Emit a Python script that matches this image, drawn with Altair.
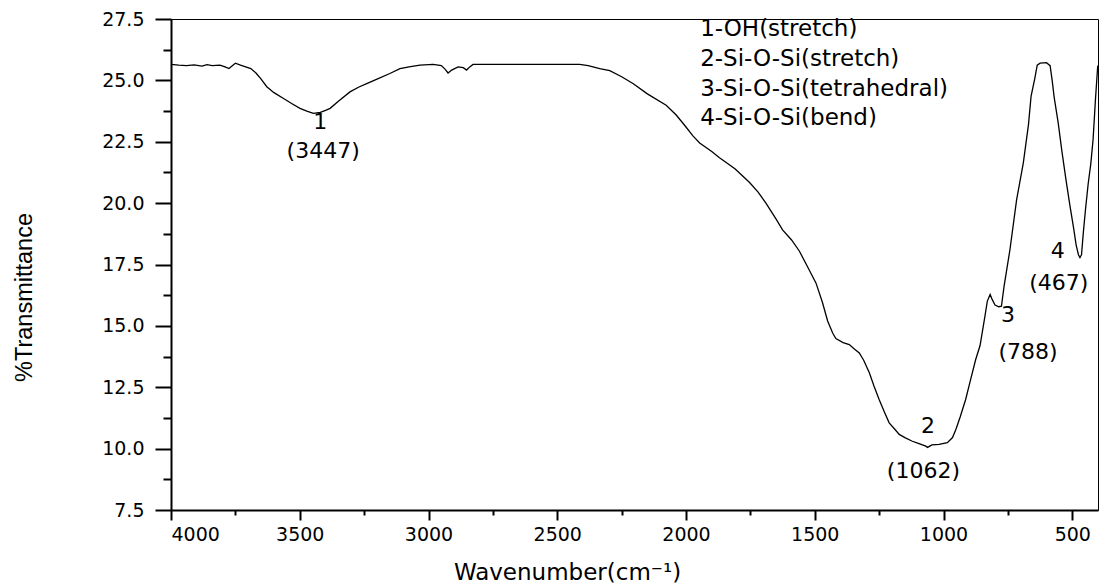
import altair as alt
import pandas as pd

# FTIR spectrum: wavenumber (cm-1) and %T
wavenumber = [4000, 3970, 3940, 3910, 3880, 3860, 3840, 3810, 3790, 3775, 3750, 3730, 3710,
              3690, 3670, 3650, 3628, 3600, 3563, 3530, 3499, 3470, 3447, 3420, 3400, 3382,
              3350, 3305, 3270, 3240, 3200, 3150, 3111, 3070, 3033, 2982, 2950, 2935, 2924,
              2910, 2885, 2865, 2852, 2840, 2827, 2700, 2500, 2413, 2380, 2335, 2296, 2250,
              2206, 2150, 2077, 2038, 2000, 1974, 1947, 1900, 1870, 1810, 1754, 1720, 1689,
              1650, 1625, 1590, 1560, 1530, 1495, 1470, 1450, 1430, 1418, 1390, 1366, 1345,
              1327, 1310, 1288, 1270, 1250, 1230, 1211, 1190, 1172, 1150, 1121, 1095, 1069,
              1062, 1045, 1017, 985, 965, 952, 935, 914, 895, 875, 858, 839, 830, 819, 812,
              800, 785, 775, 765, 742, 716, 690, 670, 660, 645, 636, 625, 600, 586, 578, 570,
              555, 540, 525, 509, 495, 485, 476, 470, 464, 457, 448, 438, 428, 419, 410, 401]
transmittance = [25.65, 25.62, 25.60, 25.63, 25.58, 25.64, 25.60, 25.62, 25.55, 25.48, 25.70,
                 25.62, 25.55, 25.48, 25.30, 25.05, 24.74, 24.50, 24.26, 24.05, 23.86, 23.74,
                 23.66, 23.70, 23.78, 23.86, 24.15, 24.53, 24.73, 24.87, 25.05, 25.28, 25.48,
                 25.56, 25.62, 25.65, 25.60, 25.45, 25.30, 25.42, 25.55, 25.52, 25.42, 25.55,
                 25.65, 25.65, 25.65, 25.65, 25.60, 25.48, 25.40, 25.15, 24.87, 24.45, 23.99,
                 23.59, 23.10, 22.75, 22.45, 22.10, 21.85, 21.40, 20.85, 20.45, 19.99, 19.35,
                 18.91, 18.50, 18.05, 17.45, 16.74, 15.95, 15.20, 14.70, 14.48, 14.32, 14.24,
                 14.05, 13.90, 13.60, 13.09, 12.55, 12.00, 11.50, 11.05, 10.80, 10.58, 10.45,
                 10.30, 10.20, 10.10, 10.05, 10.15, 10.17, 10.24, 10.45, 10.78, 11.30, 12.00,
                 12.80, 13.63, 14.20, 15.40, 16.00, 16.28, 16.10, 15.85, 15.78, 15.80, 16.60,
                 18.10, 20.14, 21.64, 23.20, 24.35, 25.10, 25.62, 25.70, 25.72, 25.60, 25.00,
                 24.30, 23.30, 22.10, 21.00, 19.90, 19.00, 18.30, 17.90, 17.78, 17.90, 18.80,
                 19.80, 20.80, 21.60, 22.60, 24.20, 25.60]

# peak labels (text, wavenumber, %T where the text sits)
peak_text = ["1", "(3447)", "2", "(1062)", "3", "(788)", "4", "(467)"]
peak_x = [3420, 3409, 1060, 1078, 750, 672, 556, 552]
peak_y = [23.29, 22.11, 10.92, 9.09, 15.46, 13.92, 18.04, 16.75]

# band assignment list
legend_text = ["1-OH(stretch)", "2-Si-O-Si(stretch)", "3-Si-O-Si(tetrahedral)", "4-Si-O-Si(bend)"]
legend_x = [1945, 1945, 1945, 1945]
legend_y = [27.10, 25.88, 24.66, 23.48]

x_major = [4000, 3500, 3000, 2500, 2000, 1500, 1000, 500]
x_minor = [3750, 3250, 2750, 2250, 1750, 1250, 750]
y_major = [7.5, 10.0, 12.5, 15.0, 17.5, 20.0, 22.5, 25.0, 27.5]
y_minor = [8.75, 11.25, 13.75, 16.25, 18.75, 21.25, 23.75, 26.25]

spec = pd.DataFrame({"wn": wavenumber, "T": transmittance})
peaks = pd.DataFrame({"label": peak_text, "wn": peak_x, "T": peak_y})
legend = pd.DataFrame({"label": legend_text, "wn": legend_x, "T": legend_y})

xs = alt.Scale(domain=[400, 4000], reverse=True, nice=False, zero=False)
ys = alt.Scale(domain=[7.5, 27.5], nice=False, zero=False)

TICKFONT = "DejaVu Sans"

x_axis_major = alt.Axis(values=x_major, orient="bottom", format="d", tickSize=10, tickWidth=2,
                        tickColor="black", domainColor="black", domainWidth=2, labelFont=TICKFONT,
                        labelFontSize=19, labelColor="black", labelPadding=5, grid=False,
                        title="Wavenumber(cm\u207b\u00b9)", titleFont=TICKFONT, titleFontSize=23,
                        titleFontWeight="normal", titleColor="black", titleX=396, titleY=69,
                        titleAlign="center", titleBaseline="alphabetic")
y_axis_major = alt.Axis(values=y_major, orient="left", format=".1f", tickSize=16, tickWidth=2,
                        tickColor="black", domainColor="black", domainWidth=2, labelFont=TICKFONT,
                        labelFontSize=19, labelColor="black", labelPadding=11, grid=False,
                        title="%Transmittance", titleFont="Liberation Sans", titleFontSize=23.5,
                        titleFontWeight="normal", titleColor="black", titleX=-140, titleY=278,
                        titleAngle=270, titleAlign="center", titleBaseline="alphabetic")
x_axis_minor = alt.Axis(values=x_minor, orient="bottom", tickSize=5, tickWidth=2, tickColor="black",
                        domain=False, labels=False, grid=False, title=None)
y_axis_minor = alt.Axis(values=y_minor, orient="left", tickSize=8, tickWidth=2, tickColor="black",
                        domain=False, labels=False, grid=False, title=None)

line = alt.Chart(spec).mark_line(color="black", strokeWidth=1.3, clip=True).encode(
    x=alt.X("wn:Q", scale=xs, axis=x_axis_major),
    y=alt.Y("T:Q", scale=ys, axis=y_axis_major),
    order=alt.Order("wn:Q", sort="descending"),
)
minor = alt.Chart(spec).mark_line(opacity=0).encode(
    x=alt.X("wn:Q", scale=xs, axis=x_axis_minor),
    y=alt.Y("T:Q", scale=ys, axis=y_axis_minor),
)
peak_labels = alt.Chart(peaks).mark_text(font=TICKFONT, fontSize=22, color="black",
                                         align="center", baseline="middle").encode(
    x=alt.X("wn:Q", scale=xs, axis=None),
    y=alt.Y("T:Q", scale=ys, axis=None),
    text="label:N",
)
legend_labels = alt.Chart(legend).mark_text(font=TICKFONT, fontSize=23, color="black",
                                            align="left", baseline="middle").encode(
    x=alt.X("wn:Q", scale=xs, axis=None),
    y=alt.Y("T:Q", scale=ys, axis=None),
    text="label:N",
)

chart = alt.layer(line, minor, peak_labels, legend_labels).resolve_axis(
    x="independent", y="independent"
).properties(
    width=927, height=491,
    padding={"left": 171, "top": 19, "right": 3, "bottom": 77},
    autosize=alt.AutoSizeParams(type="none"),
    background="white",
).configure_view(stroke="black", strokeWidth=1)

chart.save("out.html", embed_options={"renderer": "svg", "actions": False})
